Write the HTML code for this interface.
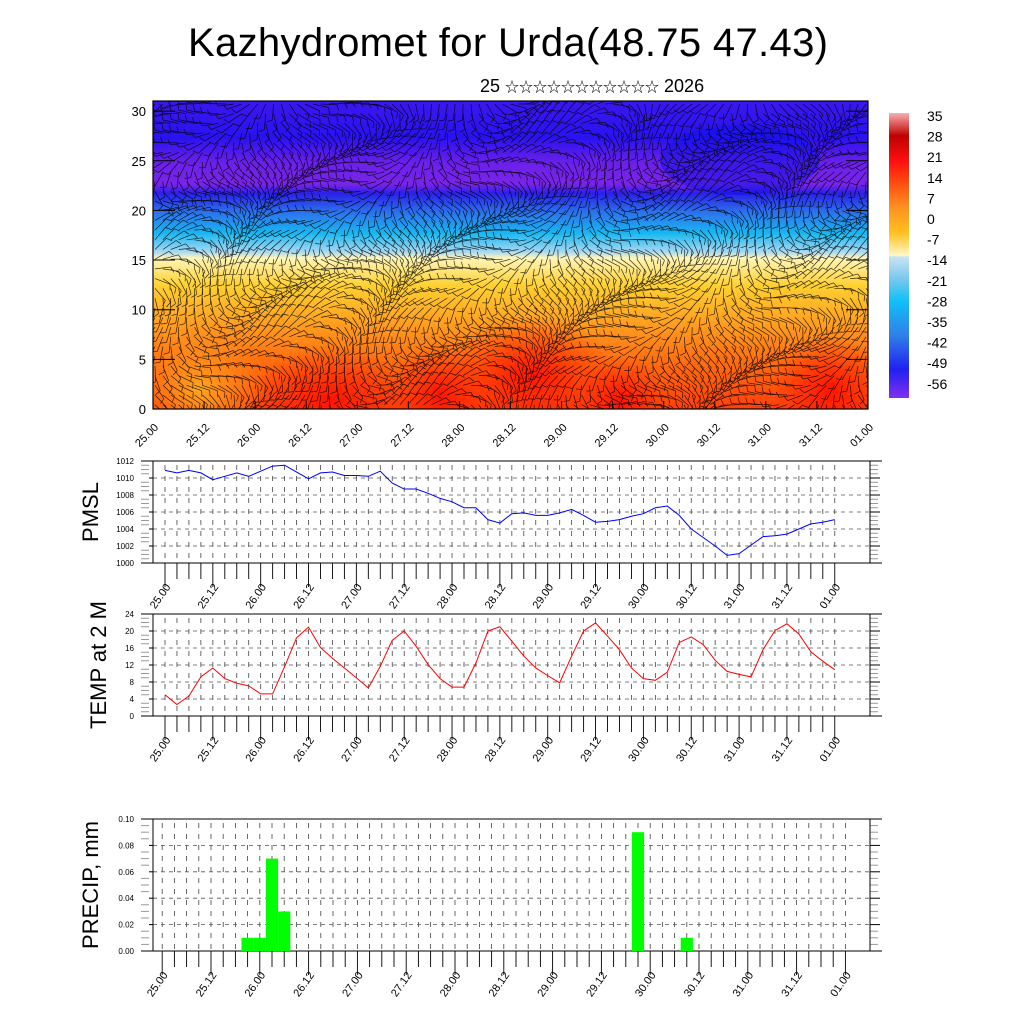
<!DOCTYPE html>
<html><head><meta charset="utf-8"><style>
body{margin:0;background:#fff;}
svg{display:block;font-family:"Liberation Sans","Noto Sans CJK SC",sans-serif;}
</style></head><body>
<svg id="s" width="1024" height="1024" viewBox="0 0 1024 1024" xmlns="http://www.w3.org/2000/svg">
<defs>
<linearGradient id="tg" x1="0" y1="101" x2="0" y2="409" gradientUnits="userSpaceOnUse">
<stop offset="0" stop-color="#3a18ee"/>
<stop offset="0.12" stop-color="#2a12f0"/>
<stop offset="0.2" stop-color="#6a20ea"/>
<stop offset="0.27" stop-color="#7a24e8"/>
<stop offset="0.3" stop-color="#2a20e8"/>
<stop offset="0.36" stop-color="#2c70ec"/>
<stop offset="0.43" stop-color="#18b8f2"/>
<stop offset="0.49" stop-color="#a8d8f2"/>
<stop offset="0.51" stop-color="#fff6b8"/>
<stop offset="0.6" stop-color="#ffd030"/>
<stop offset="0.72" stop-color="#ffa020"/>
<stop offset="0.84" stop-color="#ff7010"/>
<stop offset="1" stop-color="#ff4008"/>
</linearGradient>
<radialGradient id="rd"><stop offset="0" stop-color="#ff1000" stop-opacity="0.95"/><stop offset="1" stop-color="#ff2000" stop-opacity="0"/></radialGradient>
<radialGradient id="og"><stop offset="0" stop-color="#ffb020" stop-opacity="0.9"/><stop offset="1" stop-color="#ffa020" stop-opacity="0"/></radialGradient>
<linearGradient id="cb" x1="0" y1="113" x2="0" y2="398" gradientUnits="userSpaceOnUse">
<stop offset="0" stop-color="#f8b0b0"/>
<stop offset="0.08" stop-color="#c00000"/>
<stop offset="0.17" stop-color="#ff1010"/>
<stop offset="0.25" stop-color="#ff5010"/>
<stop offset="0.33" stop-color="#ff9020"/>
<stop offset="0.42" stop-color="#ffc020"/>
<stop offset="0.5" stop-color="#fff8c8"/>
<stop offset="0.505" stop-color="#c8e4f4"/>
<stop offset="0.58" stop-color="#7cc8ec"/>
<stop offset="0.66" stop-color="#10c0f8"/>
<stop offset="0.78" stop-color="#3080e8"/>
<stop offset="0.9" stop-color="#2020f0"/>
<stop offset="1" stop-color="#8030f0"/>
</linearGradient>
<clipPath id="tc"><rect x="153" y="101" width="715" height="308"/></clipPath>
</defs>
<text x="508" y="56" font-size="40" text-anchor="middle" textLength="640">Kazhydromet for Urda(48.75 47.43)</text>
<text x="480" y="92" font-size="18">25 <tspan font-size="14">☆☆☆☆☆☆☆☆☆☆☆</tspan> 2026</text>
<g id="top">
<rect x="153" y="101" width="715" height="308" fill="url(#tg)"/>
<g clip-path="url(#tc)">
<ellipse cx="200" cy="390" rx="70" ry="60" fill="url(#og)"/>
<ellipse cx="330" cy="400" rx="80" ry="55" fill="url(#rd)"/>
<ellipse cx="440" cy="395" rx="50" ry="50" fill="url(#rd)"/>
<ellipse cx="530" cy="375" rx="85" ry="60" fill="url(#rd)"/>
<ellipse cx="620" cy="400" rx="45" ry="45" fill="url(#rd)"/>
<ellipse cx="830" cy="390" rx="60" ry="55" fill="url(#rd)"/>
<ellipse cx="740" cy="160" rx="80" ry="35" fill="#1010e8" opacity="0.5"/>
</g>
<g id="barbs" clip-path="url(#tc)"></g>
<rect x="153" y="101" width="715" height="308" fill="none" stroke="#000" stroke-width="1.2"/>
<g id="topax"></g>
</g>
<rect x="889" y="113" width="20" height="285" fill="url(#cb)"/>
<g id="cblab"></g>
<g id="pm"></g><g id="tp"></g><g id="pr"></g>
<text transform="translate(98,512) rotate(-90)" font-size="22" text-anchor="middle">PMSL</text>
<text transform="translate(106,665) rotate(-90)" font-size="22" text-anchor="middle">TEMP at 2 M</text>
<text transform="translate(98,885) rotate(-90)" font-size="22" text-anchor="middle">PRECIP, mm</text>
</svg>
<script>
const dayLabels=["25.00","25.12","26.00","26.12","27.00","27.12","28.00","28.12","29.00","29.12","30.00","30.12","31.00","31.12","01.00"];
const pmslValues=[1010.9,1010.6,1010.9,1010.6,1009.8,1010.2,1010.6,1010.2,1010.8,1011.4,1011.5,1010.7,1009.9,1010.6,1010.7,1010.3,1010.3,1010.2,1010.8,1009.4,1008.7,1008.7,1008.2,1007.6,1007.2,1006.5,1006.5,1005.1,1004.7,1005.8,1005.9,1005.6,1005.6,1005.9,1006.3,1005.6,1004.8,1004.9,1005.1,1005.5,1005.8,1006.5,1006.7,1005.6,1004.0,1003.0,1002.0,1000.9,1001.1,1002.1,1003.1,1003.2,1003.4,1004.0,1004.6,1004.8,1005.1];
const tempValues=[5,2.7,4.7,9.2,11.3,8.8,7.7,7.1,5.2,5.2,11.6,18.4,20.9,16.1,13.6,11.3,9,6.6,11.7,17.8,20,16.4,12.1,8.8,6.8,6.8,12.5,20,21,17.6,14.1,11.3,9.5,7.8,14.1,20,21.9,18.8,15.6,11.3,8.8,8.4,10.3,17.3,18.6,16.8,13.1,10.5,9.8,9.2,15.6,20.1,21.7,19.3,15.1,12.9,10.9];
const precipIndex=[7,8,9,10,39,43];
const precipValues=[0.01,0.01,0.07,0.03,0.09,0.01];
const pmslTicks=[1000,1002,1004,1006,1008,1010,1012];
const tempTicks=[0,4,8,12,16,20,24];
const precipTicks=[0,0.02,0.04,0.06,0.08,0.10];
const heightTicks=[0,5,10,15,20,25,30];
const cbLabels=[35,28,21,14,7,0,-7,-14,-21,-28,-35,-42,-49,-56];

const NS="http://www.w3.org/2000/svg";
function mk(p,t,a){const e=document.createElementNS(NS,t);for(const k in a)e.setAttribute(k,a[k]);p.appendChild(e);return e;}

const topax=document.getElementById('topax');
const hy=v=>409-v*9.93;
heightTicks.forEach(v=>{
 const t=mk(topax,'text',{x:146,y:hy(v)+5,'font-size':13,'text-anchor':'end'});t.textContent=v;
 
 
 mk(topax,'line',{x1:153,x2:175,y1:hy(v),y2:hy(v),stroke:'#000'});
 mk(topax,'line',{x1:846,x2:868,y1:hy(v),y2:hy(v),stroke:'#000'});
});
dayLabels.forEach((l,i)=>{
 const x=153+i*715/14;
 mk(topax,'line',{x1:x,x2:x,y1:409,y2:401,stroke:'#000'});
 const t=mk(topax,'text',{transform:`translate(${x+6},${428}) rotate(-45)`,'font-size':11,'text-anchor':'end'});t.textContent=l;
 
 
});
const bg=document.getElementById('barbs');
let d='';
for(let gy=0;gy<32;gy++){for(let gx=0;gx<92;gx++){
 const x=155+gx*7.9, y=104+gy*9.7;
 const a=Math.sin(gx*0.21+gy*0.35)*1.3+Math.cos(gx*0.07-gy*0.19)*0.9+1.2;
 const L=16;
 const x2=x+Math.cos(a)*L,y2=y+Math.sin(a)*L;
 d+=`M${x.toFixed(1)} ${y.toFixed(1)}L${x2.toFixed(1)} ${y2.toFixed(1)}`;
 const b=a+1.2;d+=`M${x2.toFixed(1)} ${y2.toFixed(1)}l${(Math.cos(b)*6).toFixed(1)} ${(Math.sin(b)*6).toFixed(1)}`;
}}
mk(bg,'path',{d:d,stroke:'#000','stroke-width':0.7,fill:'none',opacity:0.8});

const cbl=document.getElementById('cblab');
cbLabels.forEach((v,i)=>{const t=mk(cbl,'text',{x:927,y:121+i*20.6,'font-size':14});t.textContent=v;
 
 });

function panel(g,name,top,h,ticks,vmin,vmax,decimals,xs,nsteps){
 
 
 const L=153,R=870;
 const y=v=>top+h-(v-vmin)/(vmax-vmin)*h;
 for(let i=0;i<=nsteps;i++){const x=xs(i);mk(g,'line',{x1:x,x2:x,y1:top+4,y2:top+h,stroke:'#444','stroke-width':0.8,'stroke-dasharray':'5 6'});}
 ticks.forEach((v,k)=>{
  if(k>0&&k<ticks.length-1)mk(g,'line',{x1:L,x2:R,y1:y(v),y2:y(v),stroke:'#555','stroke-width':0.8,'stroke-dasharray':'4 4'});
  mk(g,'line',{x1:L,x2:L-4,y1:y(v),y2:y(v),stroke:'#000'});
  mk(g,'line',{x1:R,x2:R+10,y1:y(v),y2:y(v),stroke:'#000'});
  const t=mk(g,'text',{x:L-19,y:y(v)+3,'font-size':8,'text-anchor':'end'});t.textContent=v.toFixed(decimals);
  
  
 });
 for(let k=0;k<ticks.length-1;k++){for(let m=1;m<4;m++){const v=ticks[k]+(ticks[k+1]-ticks[k])*m/4;
  mk(g,'line',{x1:L-4,x2:L-12,y1:y(v),y2:y(v),stroke:'#999'});mk(g,'line',{x1:R,x2:R+8,y1:y(v),y2:y(v),stroke:'#999'});}}
 mk(g,'rect',{x:L,y:top,width:R-L,height:h,fill:'none',stroke:'#000','stroke-width':1});
 mk(g,'line',{x1:L-12,x2:R+12,y1:top,y2:top,stroke:'#000'});
 mk(g,'line',{x1:L-12,x2:R+12,y1:top+h,y2:top+h,stroke:'#000'});
 for(let i=0;i<=nsteps;i++){const x=xs(i);mk(g,'line',{x1:x,x2:x,y1:top+h,y2:top+h+(i%4==0?24:16),stroke:'#000','stroke-width':0.9});}
 dayLabels.forEach((l,k)=>{const x=xs(k*4);const t=mk(g,'text',{transform:`translate(${x+6},${top+h+24}) rotate(-55)`,'font-size':11,'text-anchor':'end'});t.textContent=l;
  
  });
 return y;
}
const xa=i=>165+i*11.96;
const gp=document.getElementById('pm');
const yp=panel(gp,'pmsl-panel',461,102,pmslTicks,1000,1012,0,xa,56);
const pl=mk(gp,'polyline',{points:pmslValues.map((v,i)=>xa(i)+','+yp(v)).join(' '),fill:'none',stroke:'#0000ff','stroke-width':1});


const gt=document.getElementById('tp');
const yt=panel(gt,'temp-panel',614,102,tempTicks,0,24,0,xa,56);
const tl=mk(gt,'polyline',{points:tempValues.map((v,i)=>xa(i)+','+yt(v)).join(' '),fill:'none',stroke:'#ff0000','stroke-width':1});


const xb=i=>162.2+i*12.2;
const gr=document.getElementById('pr');
const yr=panel(gr,'precip-panel',819,132,precipTicks,0,0.10,2,xb,56);
precipValues.forEach((v,k)=>{const i=precipIndex[k];
 const r=mk(gr,'rect',{x:xb(i)-6.1,y:yr(v),width:12.2,height:yr(0)-yr(v),fill:'#00ff00'});
 
 });
</script>
</body></html>
